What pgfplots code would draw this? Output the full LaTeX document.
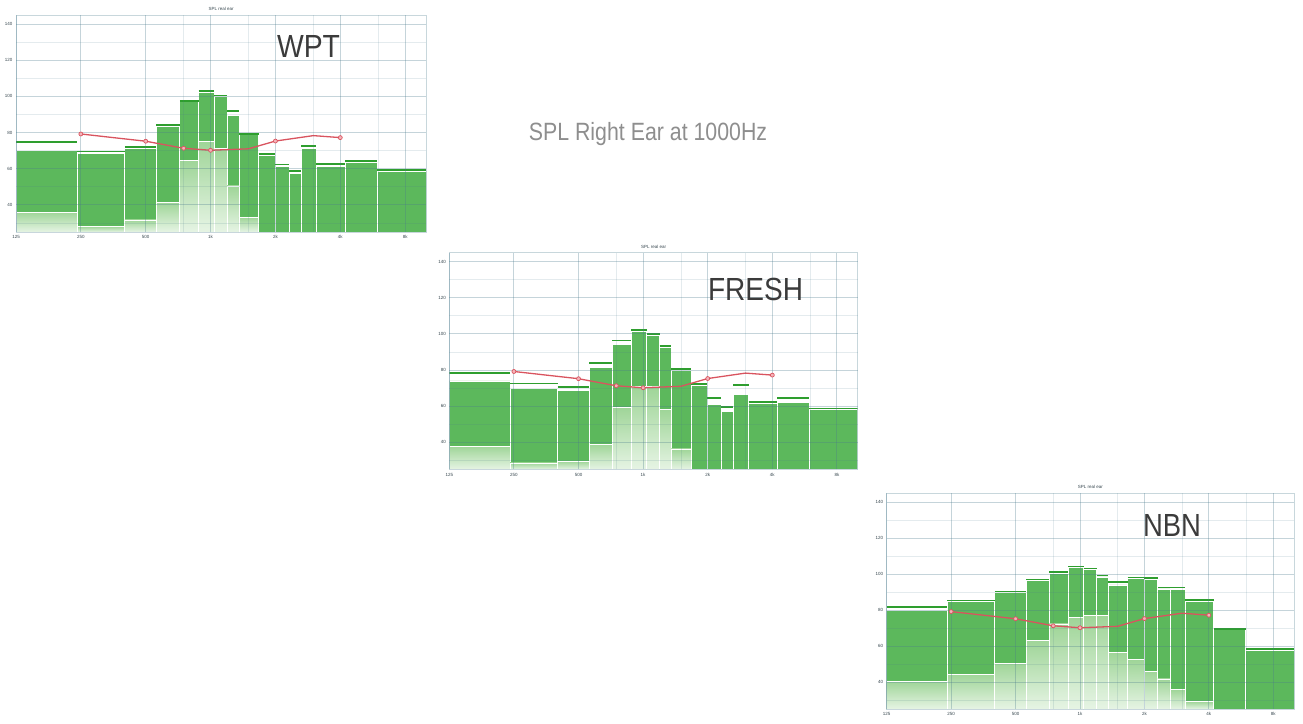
\documentclass[border=0pt]{standalone}
\usepackage{fontspec}
\setmainfont{Liberation Sans}
\usepackage{graphicx}
\usepackage{pgfplots}
\pgfplotsset{compat=1.18}

\definecolor{barg}{HTML}{5CB85C}
\definecolor{peakg}{HTML}{2E9E2E}
\definecolor{lighttop}{HTML}{9FD598}
\definecolor{lightbot}{HTML}{E6F4E4}
\definecolor{gridc}{HTML}{4A7A8C}
\definecolor{tickc}{HTML}{37474F}
\definecolor{redl}{HTML}{D9545F}
\definecolor{redf}{HTML}{F4B3B9}
\definecolor{labc}{HTML}{3B3B3B}
\definecolor{headc}{HTML}{8E8E8E}

% light (low-level) part of one band: left edge, right edge, level
\newcommand{\lowbar}[3]{%
\addplot[draw=white, line width=0.7pt, top color=lighttop, bottom color=lightbot] coordinates {(#1,25) (#1,#3) (#2,#3) (#2,25) (#1,25)};%
}

\begin{document}
\begin{tikzpicture}
\path (0pt,0pt) (1303pt,-723pt);

% ---------- WPT ----------
\begin{axis}[scale only axis, width=410pt, height=217pt, at={(16pt,-15pt)}, anchor=north west,
  xmode=log, xmin=125, xmax=10000, ymin=25, ymax=145,
  xtick={125,250,500,1000,2000,4000,8000}, xticklabels={125,250,500,1k,2k,4k,8k},
  minor xtick={750,1500,3000,6000},
  ytick={40,60,80,100,120,140}, yticklabels={40,60,80,100,120,140},
  minor ytick={30,50,70,90,110,130},
  grid=both,
  major grid style={draw=gridc, opacity=0.32, line width=1pt},
  minor grid style={draw=gridc, opacity=0.15, line width=0.7pt},
  axis line style={draw=gridc, draw opacity=0.3, line width=0.8pt},
  major tick length=0pt, minor tick length=0pt,
  tick label style={font=\fontsize{4.5}{5}\selectfont, text=tickc},
  title style={font=\fontsize{4.5}{5}\selectfont, text=tickc, yshift=-5pt},
  title={SPL real ear}, axis on top, unbounded coords=jump]
\addplot[ybar interval, fill=barg, draw=white, line width=0.7pt] coordinates {(125,70.3) (240,68.4) (400,71.4) (560,83.5) (720,97.0) (880,102.2) (1040,100.0) (1195,89.3) (1355,78.8) (1670,67.3) (1990,61.4) (2310,57.2) (2630,71.4) (3100,61.2) (4210,63.6) (5950,58.8) (10000,58.8)};
\lowbar{125}{240}{36.0}
\lowbar{240}{400}{28.0}
\lowbar{400}{560}{31.7}
\lowbar{560}{720}{41.3}
\lowbar{720}{880}{64.5}
\lowbar{880}{1040}{75.1}
\lowbar{1040}{1195}{71.0}
\lowbar{1195}{1355}{50.5}
\lowbar{1355}{1670}{33.2}
\addplot[peakg, line width=1.7pt] coordinates {(125,74.9) (240,74.9) (240,nan) (240,69.5) (400,69.5) (400,nan) (400,72.1) (560,72.1) (560,nan) (560,84.1) (720,84.1) (720,nan) (720,97.6) (880,97.6) (880,nan) (880,102.9) (1040,102.9) (1040,nan) (1040,100.5) (1195,100.5) (1195,nan) (1195,91.8) (1355,91.8) (1355,nan) (1355,79.1) (1670,79.1) (1670,nan) (1670,68.2) (1990,68.2) (1990,nan) (1990,62.3) (2310,62.3) (2310,nan) (2310,58.6) (2630,58.6) (2630,nan) (2630,72.7) (3100,72.7) (3100,nan) (3100,62.7) (4210,62.7) (4210,nan) (4210,64.4) (5950,64.4) (5950,nan) (5950,59.4) (10000,59.4)};
\addplot[redl, line width=1.3pt, mark=*, mark size=2pt, mark options={fill=redf, draw=redl, line width=0.7pt}, mark indices={1,2,3,4,6,8}] coordinates {(250,79.2) (500,75.2) (750,71.3) (1000,70.2) (1500,71.0) (2000,75.3) (3000,78.3) (4000,77.2)};
\end{axis}

% ---------- FRESH ----------
\begin{axis}[scale only axis, width=408.4pt, height=216.8pt, at={(449.3pt,-252.6pt)}, anchor=north west,
  xmode=log, xmin=125, xmax=10000, ymin=25, ymax=145,
  xtick={125,250,500,1000,2000,4000,8000}, xticklabels={125,250,500,1k,2k,4k,8k},
  minor xtick={750,1500,3000,6000},
  ytick={40,60,80,100,120,140}, yticklabels={40,60,80,100,120,140},
  minor ytick={30,50,70,90,110,130},
  grid=both,
  major grid style={draw=gridc, opacity=0.32, line width=1pt},
  minor grid style={draw=gridc, opacity=0.15, line width=0.7pt},
  axis line style={draw=gridc, draw opacity=0.3, line width=0.8pt},
  major tick length=0pt, minor tick length=0pt,
  tick label style={font=\fontsize{4.5}{5}\selectfont, text=tickc},
  title style={font=\fontsize{4.5}{5}\selectfont, text=tickc, yshift=-5pt},
  title={SPL real ear}, axis on top, unbounded coords=jump]
\addplot[ybar interval, fill=barg, draw=white, line width=0.7pt] coordinates {(125,74.0) (240,69.7) (400,68.9) (560,81.4) (720,94.0) (880,101.2) (1040,99.2) (1195,92.4) (1355,80.1) (1670,71.3) (1990,61.0) (2310,57.2) (2630,66.6) (3100,61.6) (4210,62.1) (5950,58.2) (10000,58.2)};
\lowbar{125}{240}{37.8}
\lowbar{240}{400}{28.6}
\lowbar{400}{560}{29.5}
\lowbar{560}{720}{38.7}
\lowbar{720}{880}{59.5}
\lowbar{880}{1040}{70.7}
\lowbar{1040}{1195}{70.7}
\lowbar{1195}{1355}{58.0}
\lowbar{1355}{1670}{36.3}
\addplot[peakg, line width=1.7pt] coordinates {(125,78.3) (240,78.3) (240,nan) (240,72.5) (400,72.5) (400,nan) (400,70.6) (560,70.6) (560,nan) (560,84.0) (720,84.0) (720,nan) (720,96.4) (880,96.4) (880,nan) (880,102.0) (1040,102.0) (1040,nan) (1040,100.0) (1195,100.0) (1195,nan) (1195,93.3) (1355,93.3) (1355,nan) (1355,80.7) (1670,80.7) (1670,nan) (1670,72.2) (1990,72.2) (1990,nan) (1990,64.7) (2310,64.7) (2310,nan) (2310,59.7) (2630,59.7) (2630,nan) (2630,71.7) (3100,71.7) (3100,nan) (3100,62.5) (4210,62.5) (4210,nan) (4210,64.4) (5950,64.4) (5950,nan) (5950,58.7) (10000,58.7)};
\addplot[redl, line width=1.3pt, mark=*, mark size=2pt, mark options={fill=redf, draw=redl, line width=0.7pt}, mark indices={1,2,3,4,6,8}] coordinates {(250,79.2) (500,75.2) (750,71.3) (1000,70.2) (1500,71.0) (2000,75.3) (3000,78.3) (4000,77.2)};
\end{axis}

% ---------- NBN ----------
\begin{axis}[scale only axis, width=407.3pt, height=215.7pt, at={(886.7pt,-493.3pt)}, anchor=north west,
  xmode=log, xmin=125, xmax=10000, ymin=25, ymax=145,
  xtick={125,250,500,1000,2000,4000,8000}, xticklabels={125,250,500,1k,2k,4k,8k},
  minor xtick={750,1500,3000,6000},
  ytick={40,60,80,100,120,140}, yticklabels={40,60,80,100,120,140},
  minor ytick={30,50,70,90,110,130},
  grid=both,
  major grid style={draw=gridc, opacity=0.32, line width=1pt},
  minor grid style={draw=gridc, opacity=0.15, line width=0.7pt},
  axis line style={draw=gridc, draw opacity=0.3, line width=0.8pt},
  major tick length=0pt, minor tick length=0pt,
  tick label style={font=\fontsize{4.5}{5}\selectfont, text=tickc},
  title style={font=\fontsize{4.5}{5}\selectfont, text=tickc, yshift=-5pt},
  title={SPL real ear}, axis on top, unbounded coords=jump]
\addplot[ybar interval, fill=barg, draw=white, line width=0.7pt] coordinates {(125,79.7) (240,85.0) (400,90.0) (560,96.6) (720,100.7) (880,103.7) (1040,102.5) (1195,98.5) (1355,94.0) (1670,97.6) (1990,97.2) (2310,91.8) (2630,91.7) (3100,84.8) (4210,69.3) (5950,57.9) (10000,57.9)};
\lowbar{125}{240}{40.4}
\lowbar{240}{400}{44.4}
\lowbar{400}{560}{50.5}
\lowbar{560}{720}{63.2}
\lowbar{720}{880}{72.3}
\lowbar{880}{1040}{75.8}
\lowbar{1040}{1195}{76.9}
\lowbar{1195}{1355}{76.9}
\lowbar{1355}{1670}{56.6}
\lowbar{1670}{1990}{52.4}
\lowbar{1990}{2310}{45.9}
\lowbar{2310}{2630}{41.7}
\lowbar{2630}{3100}{35.8}
\lowbar{3100}{4210}{29.2}
\addplot[peakg, line width=1.7pt] coordinates {(125,81.9) (240,81.9) (240,nan) (240,85.4) (400,85.4) (400,nan) (400,90.4) (560,90.4) (560,nan) (560,97.0) (720,97.0) (720,nan) (720,101.3) (880,101.3) (880,nan) (880,104.3) (1040,104.3) (1040,nan) (1040,103.1) (1195,103.1) (1195,nan) (1195,99.2) (1355,99.2) (1355,nan) (1355,95.6) (1670,95.6) (1670,nan) (1670,98.1) (1990,98.1) (1990,nan) (1990,97.7) (2310,97.7) (2310,nan) (2310,92.6) (2630,92.6) (2630,nan) (2630,92.6) (3100,92.6) (3100,nan) (3100,85.5) (4210,85.5) (4210,nan) (4210,69.7) (5950,69.7) (5950,nan) (5950,58.5) (10000,58.5)};
\addplot[redl, line width=1.3pt, mark=*, mark size=2pt, mark options={fill=redf, draw=redl, line width=0.7pt}, mark indices={1,2,3,4,6,8}] coordinates {(250,79.2) (500,75.2) (750,71.3) (1000,70.2) (1500,71.0) (2000,75.3) (3000,78.3) (4000,77.2)};
\end{axis}

% ---------- texts ----------
\node[anchor=base, inner sep=0pt, text=headc, font=\fontsize{25}{25}\selectfont] at (648pt,-140pt) {\scalebox{0.853}[1]{SPL Right Ear at 1000Hz}};
\node[anchor=base, inner sep=0pt, text=labc, font=\fontsize{32}{32}\selectfont] at (308.5pt,-57pt) {\scalebox{0.886}[1]{WPT}};
\node[anchor=base, inner sep=0pt, text=labc, font=\fontsize{32}{32}\selectfont] at (755.5pt,-300pt) {\scalebox{0.876}[1]{FRESH}};
\node[anchor=base, inner sep=0pt, text=labc, font=\fontsize{32}{32}\selectfont] at (1172pt,-536pt) {\scalebox{0.858}[1]{NBN}};
\end{tikzpicture}
\end{document}
